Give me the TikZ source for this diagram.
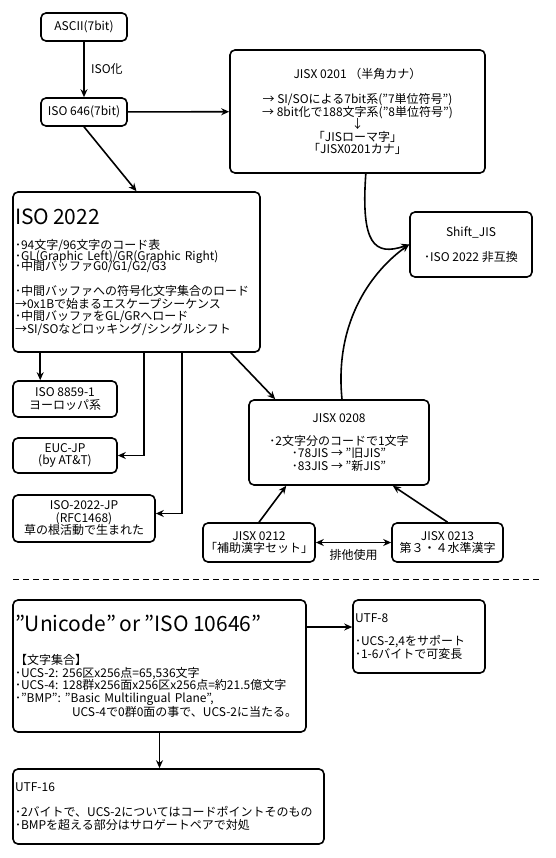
\documentclass[tikz,border=0pt]{standalone}
\usepackage{fontspec}
\setmainfont{Noto Sans CJK JP}
\usetikzlibrary{arrows.meta}
\setlength{\parindent}{0pt}
\newcommand{\titlefont}{\fontsize{21}{24}\selectfont}

\begin{document}
\begin{tikzpicture}[x=1pt, y=-1pt, line width=1.6pt,
				    font=\fontsize{12}{12.5}\selectfont,
				    >={Stealth[length=8pt, width=7pt]},
				    state/.style={draw, rounded corners=5pt, fill=white,
				    			  align=center, text=black, inner sep=2pt},
				    memo/.style={state, align=left}]
	\useasboundingbox (0,0) rectangle (555,858);

	\node[state, minimum width=86pt, minimum height=28pt] (ascii) at (84,27) {ASCII(7bit)};
	\node[state, minimum width=86pt, minimum height=28pt] (iso646) at (84,112) {ISO 646(7bit)};
	\node[state, minimum width=255pt, minimum height=123pt] (jis0201) at (357.5,111.5)
		{JISX 0201 （半角カナ）\\[12.5pt] → SI/SOによる7bit系(”7単位符号”)\\
		 → 8bit化で188文字系(”8単位符号”)\\ ↓\\ 「JISローマ字」\\ 「JISX0201カナ」};
	\node[state, minimum width=122pt, minimum height=65pt] (sjis) at (471,244.5)
		{Shift\_JIS\\[12.5pt] ･ISO 2022 非互換};
	\node[memo, text width=243pt, minimum height=160pt] (iso2022) at (136.5,272)
		{{\titlefont ISO~2022\par}\vspace{14.5pt}
		 {\fontsize{12}{10.5}\selectfont\lineskiplimit=-5pt
		  ･94文字/96文字のコード表\\ ･GL(Graphic~Left)/GR(Graphic~Right)\\ ･中間バッファG0/G1/G2/G3\par}
		 \vspace{12.5pt}
		 ･中間バッファへの符号化文字集合のロード\\ →0x1Bで始まるエスケープシーケンス\\
		 ･中間バッファをGL/GRへロード\\ →SI/SOなどロッキング/シングルシフト};
	\node[state, minimum width=104pt, minimum height=36pt] (iso8859) at (65,399) {ISO 8859-1\\ ヨーロッパ系};
	\node[state, minimum width=104pt, minimum height=35pt] (euc) at (65,455.5) {EUC-JP\\ (by AT\&T)};
	\node[state, minimum width=142pt, minimum height=47pt] (isojp) at (84,518.5)
		{ISO-2022-JP\\ (RFC1468)\\ 草の根活動で生まれた};
	\node[state, minimum width=180pt, minimum height=85pt] (jis0208) at (339,442.5)
		{JISX 0208\\[10.5pt] ･2文字分のコードで1文字\\ ･78JIS → ”旧JIS”\\ ･83JIS → ”新JIS”};
	\node[state, minimum width=112pt, minimum height=39pt] (jis0212) at (259,542.5) {JISX 0212\\ 「補助漢字セット」};
	\node[state, minimum width=111pt, minimum height=39pt] (jis0213) at (447.5,542.5) {JISX 0213\\ 第３・４水準漢字};

	\node[memo, text width=289pt, minimum height=132pt] (unicode) at (159.5,666)
		{{\titlefont ”Unicode” or ”ISO~10646”\par}\vspace{20.5pt}
		 【文字集合】\\ ･UCS-2:~256区x256点=65,536文字\\ ･UCS-4:~128群x256面x256区x256点=約21.5億文字\\
		 ･”BMP”:~”Basic~Multilingual~Plane”,\\ \hspace*{57pt}UCS-4で0群0面の事で、UCS-2に当たる。};
	\node[memo, text width=128pt, minimum height=73pt] (utf8) at (419,636.5)
		{UTF-8\\[10.5pt] ･UCS-2,4をサポート\\ ･1-6バイトで可変長};
	\node[memo, text width=307pt, minimum height=75pt] (utf16) at (168.5,806.5)
		{UTF-16\\[12.5pt] ･2バイトで、UCS-2についてはコードポイントそのもの\\ ･BMPを超える部分はサロゲートペアで対処};

	\path[->] 	(ascii)  edge node[right=3pt] {ISO化}  (iso646);
	\path[->] 	(iso646)  edge  (jis0201);
	\path[->] 	(iso646.south)  edge  (iso2022.north);
	\path[->] 	([xshift=28pt]iso2022.south west)  edge  ([xshift=28pt]iso8859.north west);
	\draw[->] 	([xshift=132pt]iso2022.south west) |- (euc);
	\draw[->] 	([xshift=170pt]iso2022.south west) |- ([yshift=5pt]isojp.east);
	\path[->] 	([xshift=-30pt]iso2022.south east)  edge  ([xshift=27pt]jis0208.north west);
	\draw[->] 	([xshift=-120pt]jis0201.south east) .. controls +(-5,70) and +(-35,12) .. (sjis.west);
	\draw[->] 	([xshift=3pt]jis0208.north) .. controls +(-8,-80) and +(-35,25) .. (sjis.west);
	\path[->] 	(jis0212.north)  edge  ([xshift=38pt]jis0208.south west);
	\path[->] 	(jis0213.north)  edge  ([xshift=-37pt]jis0208.south east);
	\path[<->] 	(jis0212)  edge node[below=3pt] {排他使用}  (jis0213);

	\draw[dashed, line width=0.8pt, dash pattern=on 6pt off 4pt] (13,579) -- (541,579);

	\draw[->] 	([yshift=39pt]unicode.east) -- ([yshift=9.5pt]utf8.west);
	\draw[->] 	(unicode.south) -- (unicode.south |- utf16.north);

\end{tikzpicture}
\end{document}
